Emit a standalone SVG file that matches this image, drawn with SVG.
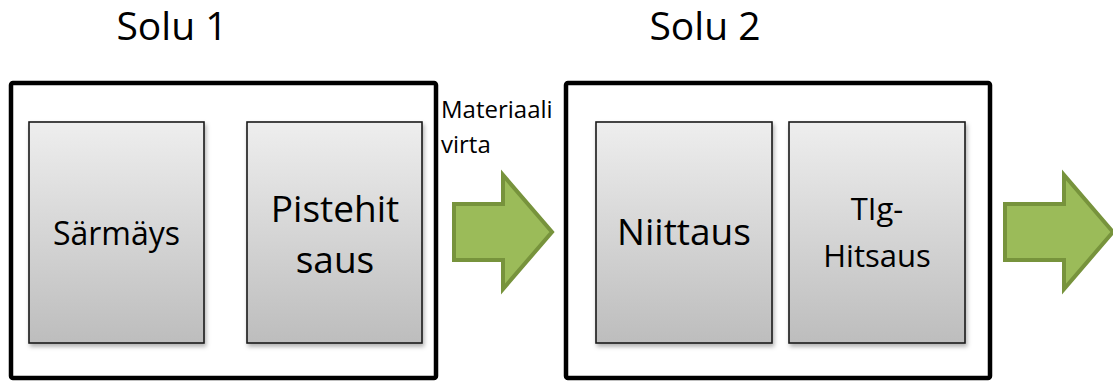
<svg xmlns="http://www.w3.org/2000/svg" width="1113" height="381" viewBox="0 0 1113 381">
  <style>
    text { font-family: "Open Sans", "Liberation Sans", sans-serif; fill: #000; }
    .title { font-size: 39px; text-anchor: middle; }
    .cell { fill: #fff; stroke: #000; stroke-width: 4.5; }
    .step { fill: url(#stepFill); stroke: #1a1a1a; stroke-width: 1.6; filter: url(#shadow); }
    .lbl { text-anchor: middle; }
    .flow { fill: #9bbb59; stroke: #77933c; stroke-width: 4; stroke-linejoin: miter; }
  </style>
  <defs>
    <linearGradient id="stepFill" x1="0" y1="0" x2="0" y2="1">
      <stop offset="0" stop-color="#eeeeee"/>
      <stop offset="1" stop-color="#bdbdbd"/>
    </linearGradient>
    <filter id="shadow" x="-10%" y="-10%" width="125%" height="125%">
      <feDropShadow dx="1.5" dy="3" stdDeviation="2" flood-color="#000" flood-opacity="0.3"/>
    </filter>
  </defs>

  <rect width="1113" height="381" fill="#fff"/>

  <!-- cell titles -->
  <text class="title" x="172" y="40">Solu 1</text>
  <text class="title" x="705" y="40">Solu 2</text>

  <!-- cell 1 -->
  <g id="solu1">
    <rect class="cell" x="11" y="83" width="425" height="295" rx="2"/>
  </g>
  <g id="sarmays">
    <rect class="step" x="29" y="122" width="175" height="221"/>
    <text class="lbl" x="116.5" y="245" font-size="32">Särmäys</text>
  </g>
  <g id="pistehitsaus">
    <rect class="step" x="247" y="122" width="175" height="221"/>
    <text class="lbl" x="335" y="222" font-size="37">Pistehit</text>
    <text class="lbl" x="335" y="273" font-size="37">saus</text>
  </g>

  <!-- cell 2 -->
  <g id="solu2">
    <rect class="cell" x="566" y="83" width="424" height="295" rx="2"/>
  </g>
  <g id="niittaus">
    <rect class="step" x="596" y="122" width="176" height="221"/>
    <text class="lbl" x="684" y="245" font-size="37">Niittaus</text>
  </g>
  <g id="tig-hitsaus">
    <rect class="step" x="789" y="122" width="176" height="221"/>
    <text class="lbl" x="877" y="220" font-size="31">TIg-</text>
    <text class="lbl" x="877" y="267" font-size="31">Hitsaus</text>
  </g>

  <!-- material flow arrows -->
  <g id="connectors">
    <text x="441" y="118" font-size="24">Materiaali</text>
    <text x="441" y="153" font-size="24">virta</text>
    <path class="flow" d="M454,204 H503 V175 L552,232 L503,289 V260 H454 Z"/>
    <path class="flow" d="M1005,204 H1064 V175 L1113,232 L1064,289 V260 H1005 Z"/>
  </g>
</svg>
